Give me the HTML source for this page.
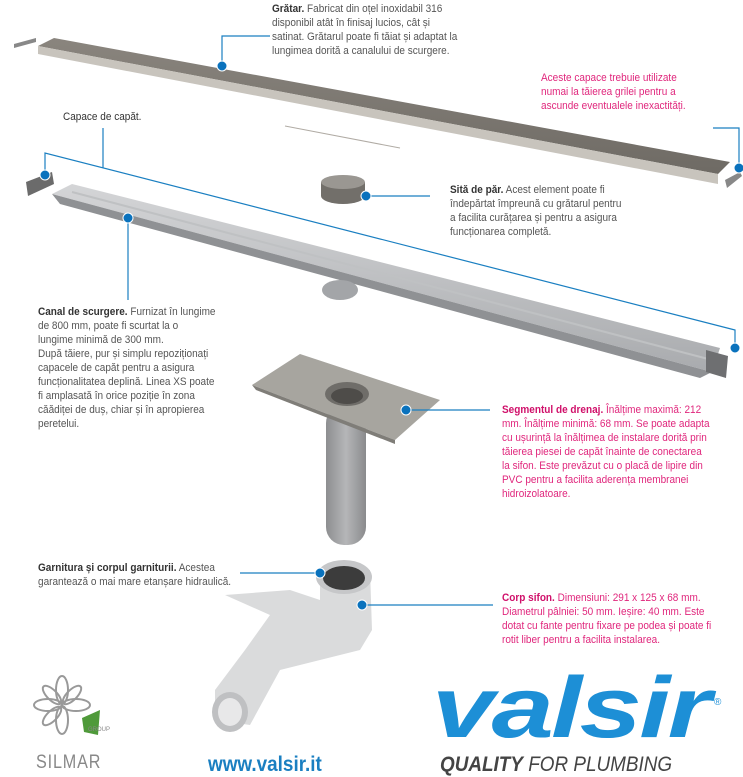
<!DOCTYPE html>
<html><head><meta charset="utf-8"><style>
body{margin:0;background:#fff;width:743px;height:777px;overflow:hidden;position:relative;font-family:"Liberation Sans",sans-serif;}
.t{position:absolute;font-size:11px;line-height:14px;color:#555;white-space:nowrap;transform:scaleX(0.91);transform-origin:0 0;}
.t b{color:#333;font-weight:bold}
.p{color:#e0267c}.p b{color:#d0106a}
</style></head><body>
<svg width="743" height="777" style="position:absolute;left:0;top:0">
<defs>
<linearGradient id="g1" x1="0" y1="0" x2="0" y2="1"><stop offset="0" stop-color="#8a857e"/><stop offset="1" stop-color="#6e6a64"/></linearGradient>
<linearGradient id="g2" x1="0" y1="0" x2="0" y2="1"><stop offset="0" stop-color="#d4d5d7"/><stop offset="1" stop-color="#a9abae"/></linearGradient>
<linearGradient id="g3" x1="0" y1="0" x2="1" y2="0"><stop offset="0" stop-color="#8d8e90"/><stop offset=".5" stop-color="#b5b6b8"/><stop offset="1" stop-color="#8a8b8d"/></linearGradient>
</defs>
<polygon points="38,46 54,38 730,162 718,174" fill="url(#g1)"/>
<polygon points="38,46 718,174 718,184 38,54" fill="#c8c4bd"/>
<line x1="285" y1="126" x2="400" y2="148" stroke="#b0aba4"/>
<polygon points="14,44 36,38 36,42 14,48" fill="#888"/>
<polygon points="725,180 740,172 742,176 727,188" fill="#888"/>
<polygon points="26,182 52,172 54,184 28,196" fill="#6b6b6b"/>
<polygon points="52,194 72,184 720,348 712,372" fill="url(#g2)"/>
<polygon points="52,194 712,372 700,378 60,204" fill="#8f9194"/>
<line x1="72" y1="192" x2="712" y2="360" stroke="#bfc1c3" stroke-width="2"/>
<ellipse cx="340" cy="290" rx="18" ry="10" fill="#a3a5a8"/>
<polygon points="706,350 728,356 726,378 706,372" fill="#6e6f71"/>
<rect x="321" y="182" width="44" height="14" fill="#726f6a"/>
<ellipse cx="343" cy="196" rx="22" ry="8" fill="#726f6a"/>
<ellipse cx="343" cy="182" rx="22" ry="7" fill="#9a9792"/>
<rect x="326" y="405" width="40" height="140" rx="18" fill="url(#g3)"/>
<polygon points="252,385 300,354 440,400 395,440" fill="#a7a59f"/>
<polygon points="252,385 395,440 395,444 256,390" fill="#7f7d78"/>
<ellipse cx="347" cy="394" rx="22" ry="12" fill="#6f6d69"/>
<ellipse cx="347" cy="396" rx="16" ry="8" fill="#4e4c49"/>
<path d="M215,690 L245,650 L270,615 L225,595 L290,590 L320,600 L320,570 L370,570 L372,630 L360,650 L320,660 L280,670 L250,725 L215,720 Z" fill="#dadbdc"/>
<ellipse cx="230" cy="712" rx="18" ry="20" fill="#bfc0c2"/>
<ellipse cx="230" cy="712" rx="12" ry="14" fill="#e8e8e9"/>
<ellipse cx="344" cy="577" rx="28" ry="17" fill="#c6c7c9"/>
<ellipse cx="344" cy="578" rx="21" ry="12" fill="#3c3c3c"/>
<g stroke="#1a7fc1" stroke-width="1.2" fill="none">
<polyline points="222,66 222,36 270,36"/>
<polyline points="713,128 739,128 739,168"/>
<polyline points="45,175 45,153 735,330 735,348"/>
<line x1="103" y1="128" x2="103" y2="168"/>
<line x1="128" y1="218" x2="128" y2="300"/>
<line x1="366" y1="196" x2="430" y2="196"/>
<line x1="406" y1="410" x2="490" y2="410"/>
<line x1="240" y1="573" x2="320" y2="573"/>
<line x1="362" y1="605" x2="493" y2="605"/>
</g>
<g fill="#0a72bd" stroke="#fff" stroke-width="1">
<circle cx="222" cy="66" r="5"/><circle cx="739" cy="168" r="5"/><circle cx="45" cy="175" r="5"/>
<circle cx="735" cy="348" r="5"/><circle cx="128" cy="218" r="5"/><circle cx="366" cy="196" r="5"/>
<circle cx="406" cy="410" r="5"/><circle cx="320" cy="573" r="5"/><circle cx="362" cy="605" r="5"/>
</g>
<g fill="none" stroke="#999" stroke-width="2">
<ellipse cx="62" cy="690" rx="6" ry="14"/><ellipse cx="62" cy="720" rx="6" ry="14"/>
<ellipse cx="48" cy="705" rx="14" ry="6"/><ellipse cx="76" cy="705" rx="14" ry="6"/>
<ellipse cx="52" cy="695" rx="5" ry="12" transform="rotate(-45 52 695)"/>
<ellipse cx="72" cy="695" rx="5" ry="12" transform="rotate(45 72 695)"/>
<ellipse cx="52" cy="716" rx="5" ry="12" transform="rotate(45 52 716)"/>
</g>
<path d="M82,718 L100,710 L98,735 L84,732 Z" fill="#4f9a3a"/>
</svg>
<div class="t" style="left:272px;top:2px"><b>Grătar.</b> Fabricat din oțel inoxidabil 316<br>disponibil atât în finisaj lucios, cât și<br>satinat. Grătarul poate fi tăiat și adaptat la<br>lungimea dorită a canalului de scurgere.</div>
<div class="t p" style="left:541px;top:71px">Aceste capace trebuie utilizate<br>numai la tăierea grilei pentru a<br>ascunde eventualele inexactități.</div>
<div class="t" style="left:63px;top:110px;color:#333">Capace de capăt.</div>
<div class="t" style="left:450px;top:183px"><b>Sită de păr.</b> Acest element poate fi<br>îndepărtat împreună cu grătarul pentru<br>a facilita curățarea și pentru a asigura<br>funcționarea completă.</div>
<div class="t" style="left:38px;top:305px"><b>Canal de scurgere.</b> Furnizat în lungime<br>de 800 mm, poate fi scurtat la o<br>lungime minimă de 300 mm.<br>După tăiere, pur și simplu repoziționați<br>capacele de capăt pentru a asigura<br>funcționalitatea deplină. Linea XS poate<br>fi amplasată în orice poziție în zona<br>căădiței de duș, chiar și în apropierea<br>peretelui.</div>
<div class="t p" style="left:502px;top:403px"><b>Segmentul de drenaj.</b> Înălțime maximă: 212<br>mm. Înălțime minimă: 68 mm. Se poate adapta<br>cu ușurință la înălțimea de instalare dorită prin<br>tăierea piesei de capăt înainte de conectarea<br>la sifon. Este prevăzut cu o placă de lipire din<br>PVC pentru a facilita aderența membranei<br>hidroizolatoare.</div>
<div class="t" style="left:38px;top:561px"><b>Garnitura și corpul garniturii.</b> Acestea<br>garantează o mai mare etanșare hidraulică.</div>
<div class="t p" style="left:502px;top:591px"><b>Corp sifon.</b> Dimensiuni: 291 x 125 x 68 mm.<br>Diametrul pâlniei: 50 mm. Ieșire: 40 mm. Este<br>dotat cu fante pentru fixare pe podea și poate fi<br>rotit liber pentru a facilita instalarea.</div>
<div style="position:absolute;left:88px;top:727px;font-size:6px;color:#888">GROUP</div>
<div style="position:absolute;left:36px;top:752px;font-size:19px;color:#888;letter-spacing:1px;transform:scaleX(0.85);transform-origin:0 0">SILMAR</div>
<div style="position:absolute;left:208px;top:753px;font-size:21px;color:#1a7fc1;font-weight:bold;transform:scaleX(0.9);transform-origin:0 0">www.valsir.it</div>
<div style="position:absolute;left:432px;top:665px;font-size:86px;line-height:86px;color:#1d8fd6;font-weight:bold;font-style:italic;letter-spacing:-2px;transform:scaleX(1.3);transform-origin:0 0">valsir</div>
<div style="position:absolute;left:714px;top:697px;font-size:10px;color:#1d8fd6">®</div>
<div style="position:absolute;left:440px;top:753px;font-size:21px;color:#444;font-style:italic;transform:scaleX(0.9);transform-origin:0 0"><b>QUALITY</b> FOR PLUMBING</div>
</body></html>
